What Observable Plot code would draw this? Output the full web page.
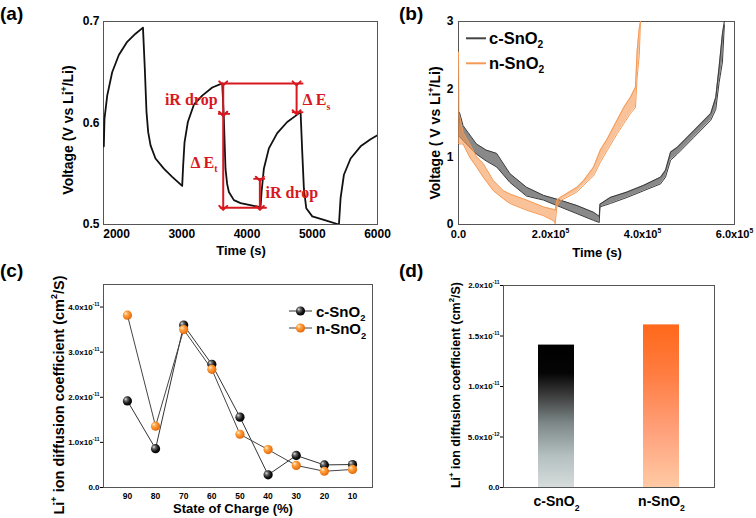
<!DOCTYPE html>
<html><head><meta charset="utf-8">
<script src="https://cdn.jsdelivr.net/npm/d3@7"></script>
<script src="https://cdn.jsdelivr.net/npm/@observablehq/plot@0.6"></script>
<style>
body{margin:0;background:#fff;}
#fig{position:relative;width:756px;height:518px;overflow:hidden;background:#fff;}
#fig svg{position:absolute;}
</style></head><body><div id="fig"></div>
<script>
// ---------- Panel (a): GITT single pulses ----------
const aTime = [1805,1815,1857,1933,2035,2163,2291,2405,2433,2459,2485,2521,2597,2725,2853,3006,3021,3042,3093,3185,3313,3467,3620,3645,3670,3695,3722,3799,3901,4050,4207,4223,4258,4335,4463,4616,4744,4821,4846,4872,4908,5000,5204,5409,5434,5485,5588,5741,5894,6000];
const aVolt = [0.577,0.604,0.627,0.650,0.667,0.680,0.688,0.694,0.654,0.611,0.591,0.578,0.565,0.555,0.547,0.538,0.558,0.581,0.601,0.618,0.627,0.635,0.639,0.604,0.555,0.540,0.532,0.524,0.521,0.519,0.517,0.532,0.555,0.575,0.590,0.601,0.607,0.611,0.572,0.535,0.516,0.508,0.504,0.500,0.526,0.549,0.565,0.577,0.584,0.588];
const aXTicks = [2000,3000,4000,5000,6000];
const aYTicks = [0.5,0.6,0.7];
const bracketLines = [{t1:3600,t2:4870,v:0.639},{t1:3590,t2:4310,v:0.5164}];
const capLines = [{t1:3563,t2:3747,v:0.609},{t1:4695,t2:4870,v:0.6106},{t1:4104,t2:4283,v:0.545}];
const arrowsA = [{t:3635,v1:0.639,v2:0.609},{t:3635,v1:0.609,v2:0.5164},{t:4760,v1:0.639,v2:0.6106},{t:4197,v1:0.545,v2:0.5164}];
const labelsEnd = [{t:3548,v:0.623,label:"iR drop"},{t:3548,v:0.561,label:"Δ E_{t}"}];
const labelsStart = [{t:4852,v:0.623,label:"Δ E_{s}"},{t:4284,v:0.531,label:"iR drop"}];

// ---------- Panel (b): full GITT envelopes (lower / upper of the sawtooth) ----------
const cTime = [0,2000,10000,39000,60000,83000,112000,148000,185000,221000,257500,293800,306000,307500,330000,366500,402900,439300,450000,461100,475600,512000,548400,559300,566600,573800,578000];
const cLow  = [1.30,1.30,1.24,1.04,0.94,0.85,0.62,0.42,0.36,0.26,0.16,0.06,0.03,0.26,0.31,0.40,0.50,0.60,0.70,0.95,1.04,1.29,1.54,1.70,2.10,2.40,2.95];
const cHigh = [1.40,1.66,1.46,1.19,1.10,1.05,0.75,0.55,0.43,0.36,0.28,0.18,0.12,0.30,0.40,0.48,0.58,0.70,0.80,1.07,1.14,1.39,1.64,1.88,2.33,2.82,3.00];
const nTime = [0,1000,10000,24700,39300,53800,75600,97400,112000,148400,184700,208000,210200,213800,221100,257500,272000,293800,308400,322900,344700,359300,373800,384700,388400,393000,395600];
const nLow  = [1.20,1.19,1.19,0.99,0.85,0.70,0.50,0.38,0.31,0.21,0.13,0.05,0.01,0.26,0.35,0.48,0.58,0.72,0.92,1.09,1.34,1.49,1.64,1.73,2.18,2.50,3.00];
const nHigh = [2.55,1.64,1.36,1.19,1.00,0.90,0.65,0.50,0.45,0.36,0.26,0.22,0.21,0.36,0.40,0.55,0.65,0.85,1.10,1.26,1.54,1.73,1.88,2.03,2.57,2.90,3.00];
const bXTicks = [0,2e5,4e5,6e5];
const bYTicks = [0,1,2,3];

// ---------- Panel (c): diffusion coefficient vs SOC ----------
const soc = [90,80,70,60,50,40,30,20,10];
const cD = [1.92,0.86,3.60,2.73,1.56,0.28,0.71,0.50,0.51]; // x1e-11
const nD = [3.82,1.36,3.50,2.62,1.18,0.84,0.49,0.36,0.40]; // x1e-11
const cYTicks = [0,1e-11,2e-11,3e-11,4e-11];

// ---------- Panel (d): average diffusion coefficient ----------
const dNames = ["c-SnO2","n-SnO2"];
const dValues = [1.41e-11,1.61e-11];
const dYTicks = [0,5e-12,1e-11,1.5e-11,2e-11];

const red = "#d7191f";
const FONT = "Liberation Sans, Arial, sans-serif";
const baseStyle = {fontFamily: FONT, fontWeight: "bold", color: "#000", background: "transparent", overflow: "visible"};
const fig = document.getElementById("fig");
function place(svg, left, top){ svg.style.left = left+"px"; svg.style.top = top+"px"; fig.appendChild(svg); return svg; }
const sciFmt = d => {
  if (d === 0) return "0.0";
  const e = Math.floor(Math.log10(d) + 1e-9);
  return (d / Math.pow(10, e)).toFixed(1) + "x10^{" + e + "}";
};

// Panel (a)
const aData = aTime.map((t,i)=>({t, v:aVolt[i]}));
const plotA = Plot.plot({
  width:378, height:259, marginLeft:103, marginRight:1, marginTop:21, marginBottom:35,
  style: baseStyle,
  x:{domain:[1800,6000]}, y:{domain:[0.5,0.7]},
  marks:[
    Plot.frame({stroke:"#555"}),
    Plot.axisX({ticks:aXTicks, tickFormat:d3.format("d"), tickSize:0, tickPadding:5, fontSize:12, label:null}),
    Plot.axisY({ticks:aYTicks, tickFormat:d3.format(".1f"), tickSize:0, tickPadding:4, fontSize:12, label:null}),
    Plot.line(aData, {x:"t", y:"v", stroke:"#111", strokeWidth:1.8, clip:true}),
    Plot.ruleY(bracketLines, {x1:"t1", x2:"t2", y:"v", stroke:red, strokeWidth:2}),
    Plot.ruleY(capLines, {x1:"t1", x2:"t2", y:"v", stroke:red, strokeWidth:1.8}),
    Plot.link(arrowsA, {x1:"t", x2:"t", y1:"v1", y2:"v2", stroke:red, strokeWidth:2, markerStart:"arrow", markerEnd:"arrow"}),
    Plot.text(labelsEnd, {x:"t", y:"v", text:"label", textAnchor:"end", fill:red, fontSize:16, fontFamily:"Liberation Serif, Times New Roman, serif", fontWeight:"bold"}),
    Plot.text(labelsStart, {x:"t", y:"v", text:"label", textAnchor:"start", fill:red, fontSize:16, fontFamily:"Liberation Serif, Times New Roman, serif", fontWeight:"bold"})
  ]
});
place(plotA, 0, 0);

// Panel (b)
const cEnv = cTime.map((t,i)=>({t, lo:cLow[i], hi:cHigh[i]}));
const nEnv = nTime.map((t,i)=>({t, lo:nLow[i], hi:nHigh[i]}));
const cCol = "#3a3a3a", nCol = "#f59a55";
const plotB = Plot.plot({
  width:378, height:259, marginLeft:80, marginRight:22, marginTop:21, marginBottom:35,
  style: baseStyle,
  x:{domain:[0,6e5]}, y:{domain:[0,3]},
  marks:[
    Plot.frame({stroke:"#555"}),
    Plot.axisX({ticks:bXTicks, tickFormat:d => d===0 ? "0.0" : (d/1e5).toFixed(1)+"x10^{5}", tickSize:0, tickPadding:6, fontSize:11, label:null}),
    Plot.axisY({ticks:bYTicks, tickFormat:d3.format("d"), tickSize:0, tickPadding:5, fontSize:12, label:null}),
    Plot.areaY(cEnv, {x:"t", y1:"lo", y2:"hi", fill:cCol, fillOpacity:0.6, clip:true}),
    Plot.line(cEnv, {x:"t", y:"lo", stroke:cCol, strokeWidth:1, clip:true}),
    Plot.line(cEnv, {x:"t", y:"hi", stroke:cCol, strokeWidth:1, clip:true}),
    Plot.areaY(nEnv, {x:"t", y1:"lo", y2:"hi", fill:nCol, fillOpacity:0.6, clip:true}),
    Plot.line(nEnv, {x:"t", y:"lo", stroke:nCol, strokeWidth:1, clip:true}),
    Plot.line(nEnv, {x:"t", y:"hi", stroke:nCol, strokeWidth:1, clip:true})
  ]
});
place(plotB, 378, 0);

// Panel (c)
const cRows = soc.map((s,i)=>({s, d:cD[i]*1e-11}));
const nRows = soc.map((s,i)=>({s, d:nD[i]*1e-11}));
const plotC = Plot.plot({
  width:378, height:259, marginLeft:103, marginRight:6, marginTop:25, marginBottom:31,
  style: baseStyle,
  x:{domain:[98.5,2.9]}, y:{domain:[0,4.5e-11]},
  marks:[
    Plot.frame({stroke:"#555"}),
    Plot.axisX({ticks:soc, tickFormat:d3.format("d"), tickSize:0, tickPadding:5, fontSize:8.5, label:null}),
    Plot.axisY({ticks:cYTicks, tickFormat:sciFmt, tickSize:3, tickPadding:1, fontSize:8, label:null}),
    Plot.line(cRows, {x:"s", y:"d", stroke:"#333", strokeWidth:1}),
    Plot.line(nRows, {x:"s", y:"d", stroke:"#444", strokeWidth:1}),
    Plot.dot(cRows, {x:"s", y:"d", r:4.6, fill:"url(#sphereBlack)", stroke:"none"}),
    Plot.dot(nRows, {x:"s", y:"d", r:4.6, fill:"url(#sphereOrange)", stroke:"none"})
  ]
});
place(plotC, 0, 259);
{
  const defs = d3.select(plotC).insert("defs", ":first-child");
  const gb = defs.append("radialGradient").attr("id","sphereBlack").attr("cx","0.4").attr("cy","0.4").attr("r","0.6").attr("fx","0.3").attr("fy","0.3");
  [["0","#e6e6e6"],["0.3","#6a6a6a"],["0.7","#151515"],["1","#000"]].forEach(([o,c])=>gb.append("stop").attr("offset",o).attr("stop-color",c));
  const go = defs.append("radialGradient").attr("id","sphereOrange").attr("cx","0.4").attr("cy","0.4").attr("r","0.6").attr("fx","0.3").attr("fy","0.3");
  [["0","#fff2d8"],["0.35","#ffa748"],["0.8","#f07a18"],["1","#e06a10"]].forEach(([o,c])=>go.append("stop").attr("offset",o).attr("stop-color",c));
}

// Panel (d)
const dRows = dNames.map((name,i)=>({name, value:dValues[i]}));
const plotD = Plot.plot({
  width:378, height:259, marginLeft:125, marginRight:42, marginTop:26, marginBottom:31,
  style: baseStyle,
  x:{domain:dNames, paddingInner:0.66, paddingOuter:0.33}, y:{domain:[0,2e-11]},
  marks:[
    Plot.barY(dRows.filter(d=>d.name===dNames[0]), {x:"name", y:"value", fill:"url(#gradC)"}),
    Plot.barY(dRows.filter(d=>d.name===dNames[1]), {x:"name", y:"value", fill:"url(#gradN)"}),
    Plot.frame({stroke:"#555"}),
    Plot.axisX({tickFormat:d => d.replace("2","_{2}"), tickSize:0, tickPadding:9, fontSize:14, label:null}),
    Plot.axisY({ticks:dYTicks, tickFormat:sciFmt, tickSize:3, tickPadding:1, fontSize:8, label:null})
  ]
});
place(plotD, 378, 259);
{
  const defs = d3.select(plotD).insert("defs", ":first-child");
  const g1 = defs.append("linearGradient").attr("id","gradC").attr("x1",0).attr("y1",0).attr("x2",0).attr("y2",1);
  [["0","#000"],["0.2","#050505"],["0.35","#3a3a3a"],["0.55","#7d8787"],["0.78","#b4bfbf"],["1","#d6dcdc"]].forEach(([o,c])=>g1.append("stop").attr("offset",o).attr("stop-color",c));
  const g2 = defs.append("linearGradient").attr("id","gradN").attr("x1",0).attr("y1",0).attr("x2",0).attr("y2",1);
  [["0","#ff681a"],["0.3","#ff7c40"],["0.65","#ffa07a"],["1","#ffcaa4"]].forEach(([o,c])=>g2.append("stop").attr("offset",o).attr("stop-color",c));
}

// Overlay: titles, panel letters, legends
const ov = d3.create("svg").attr("width",756).attr("height",518).style("left","0px").style("top","0px").style("overflow","visible");
fig.appendChild(ov.node());
function txt(x, y, s, o){
  const t = ov.append("text").attr("x",x).attr("y",y).attr("font-size",o.size).attr("font-weight","bold")
    .attr("font-family",o.family||FONT).attr("text-anchor",o.anchor||"start").attr("fill",o.fill||"#000");
  if (o.rotate) t.attr("transform",`rotate(${o.rotate},${x},${y})`);
  t.text(s);
  return t;
}
txt(0,20,"(a)",{size:19}); txt(399,20,"(b)",{size:19});
txt(0,277,"(c)",{size:19}); txt(399,277,"(d)",{size:19});
txt(73,130,"Voltage (V vs Li^{+}/Li)",{size:14,anchor:"middle",rotate:-90});
txt(241,255,"Time (s)",{size:13,anchor:"middle"});
txt(440,133,"Voltage ( V vs Li^{+}/Li)",{size:14,anchor:"middle",rotate:-90});
txt(597,257,"Time (s)",{size:13,anchor:"middle"});
txt(64,395,"Li^{+} ion diffusion coefficient (cm^{2}/S)",{size:14.5,anchor:"middle",rotate:-90});
txt(233,513,"State of Charge (%)",{size:13,anchor:"middle"});
txt(460,385,"Li^{+} ion diffusion coefficient (cm^{2}/S)",{size:12.5,anchor:"middle",rotate:-90});
// legend (b)
ov.append("line").attr("x1",466).attr("x2",486).attr("y1",38.3).attr("y2",38.3).attr("stroke","#444").attr("stroke-width",2);
txt(489,43.5,"c-SnO_{2}",{size:16.5});
ov.append("line").attr("x1",466).attr("x2",486).attr("y1",63.3).attr("y2",63.3).attr("stroke",nCol).attr("stroke-width",2);
txt(489,68.5,"n-SnO_{2}",{size:16.5});
// legend (c)
ov.append("line").attr("x1",289).attr("x2",312).attr("y1",311).attr("y2",311).attr("stroke","#333").attr("stroke-width",1);
ov.append("circle").attr("cx",300.5).attr("cy",311).attr("r",4.6).attr("fill","url(#sphereBlack)");
txt(316,316.5,"c-SnO_{2}",{size:15});
ov.append("line").attr("x1",289).attr("x2",312).attr("y1",328).attr("y2",328).attr("stroke","#444").attr("stroke-width",1);
ov.append("circle").attr("cx",300.5).attr("cy",328).attr("r",4.6).attr("fill","url(#sphereOrange)");
txt(316,334,"n-SnO_{2}",{size:15});

// Rich text: ^{...} superscripts, _{...} subscripts
const NS = "http://www.w3.org/2000/svg";
fig.querySelectorAll("text").forEach(el => {
  const s = el.textContent;
  if (!/[\^_]\{/.test(s)) return;
  const fs = parseFloat(getComputedStyle(el).fontSize) || 10;
  while (el.firstChild) el.removeChild(el.firstChild);
  const parts = s.split(/(\^\{[^}]*\}|_\{[^}]*\})/).filter(p => p !== "");
  let shift = 0;
  for (const p of parts) {
    const ts = document.createElementNS(NS, "tspan");
    let target = 0, content = p, small = false;
    if (p.startsWith("^{")) { target = -0.45*fs; content = p.slice(2,-1); small = true; }
    else if (p.startsWith("_{")) { target = 0.3*fs; content = p.slice(2,-1); small = true; }
    ts.setAttribute("dy", (target - shift).toFixed(2));
    shift = target;
    if (small) ts.setAttribute("font-size", (fs*0.62).toFixed(2));
    ts.textContent = content;
    el.appendChild(ts);
  }
});
</script></body></html>
